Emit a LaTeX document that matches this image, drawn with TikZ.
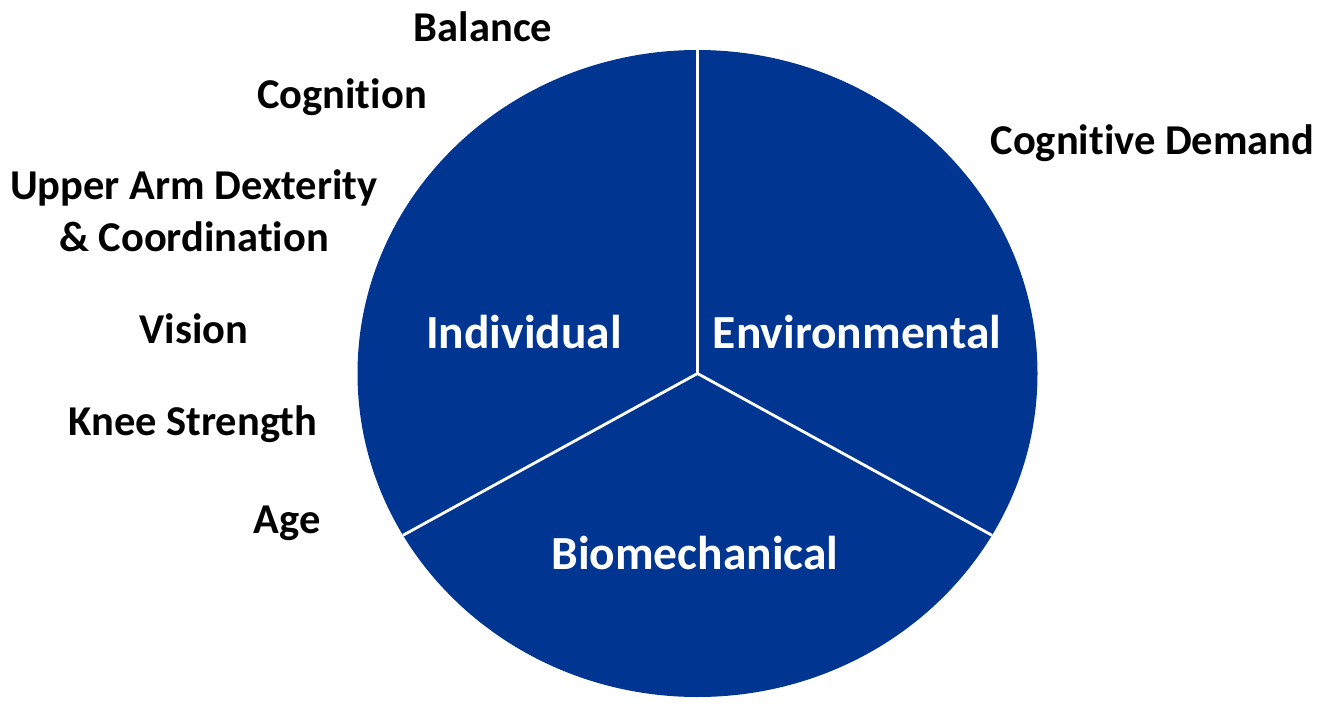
\documentclass[tikz,border=0pt]{standalone}
\usepackage{fontspec}
\setmainfont{Carlito}[Ligatures=NoCommon]
\usepackage{tikz}
\usetikzlibrary{calc}
\definecolor{PieBlue}{HTML}{003591}

\begin{document}
\begin{tikzpicture}[x=1pt, y=-1pt,
      factor/.style={font=\fontsize{42.5}{52}\selectfont\bfseries, anchor=base,
                     inner sep=0pt, align=center},
      slice/.style={font=\fontsize{47.5}{56}\selectfont\bfseries, text=white,
                    anchor=base, inner sep=0pt},
      divider/.style={draw=white, line width=2.8pt}
    ]
      \useasboundingbox (0,0) rectangle (1326,704);
      \coordinate (hub) at (697.5,373.5);
      \fill[PieBlue] (hub) ellipse [x radius=340, y radius=323.5];
      \foreach \ang/\nm in {-90/top, 150/left, 30/right}{
        \coordinate (rim\nm) at ($(hub)+(\ang:340 and 323.5)$);
        \draw[divider] (hub)--(rim\nm);
      }
      \node[slice] (ind) at (524,348) {Individual};
      \node[slice] (env) at (857,348) {Environmental};
      \node[slice] (bio) at (695,569) {Biomechanical};
      \foreach \x/\y/\lbl/\nm in {483/41/Balance/bal, 342/108/Cognition/cog,
                                  1152.5/154/Cognitive Demand/cdem,
                                  194/343/Vision/vis, 193/435/Knee Strength/knee,
                                  287/533/Age/age}{
        \node[factor] (\nm) at (\x,\y) {\lbl};
      }
      \node[factor] (arm) at (194,251) {Upper Arm Dexterity\\\& Coordination};
    \end{tikzpicture}
\end{document}
